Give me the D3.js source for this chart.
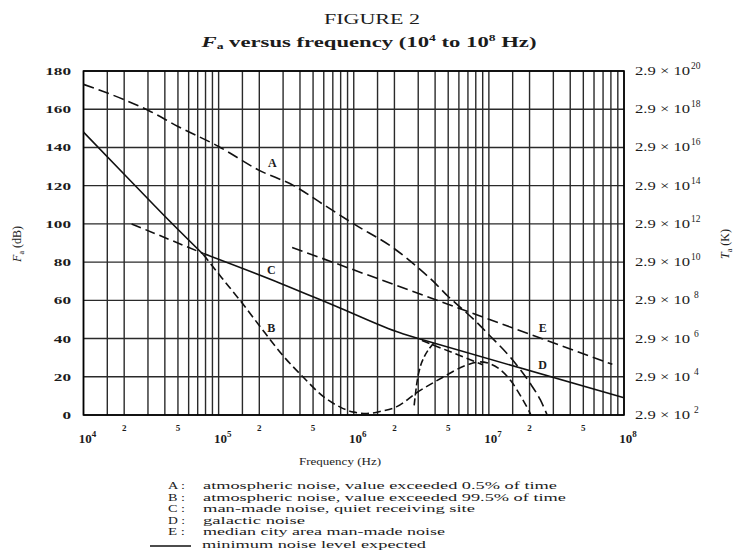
<!DOCTYPE html>
<html>
<head>
<meta charset="utf-8">
<script src="https://cdn.jsdelivr.net/npm/d3@7/dist/d3.min.js"></script>
<style>
  body { margin: 0; background: #fff; }
  svg { display: block; }
  text { font-family: "Liberation Serif", "Times New Roman", serif; fill: #1c1c1c; }
</style>
</head>
<body>
<svg id="chart"></svg>
<script>
// ---- data ----
const decades = [4, 5, 6, 7, 8];
const minorSteps = [1.5, 2, 3, 4, 5, 6, 7, 8, 9];
const minorLabelSteps = [2, 5];
const faTicks = [0, 20, 40, 60, 80, 100, 120, 140, 160, 180];
const tempExponents = [2, 4, 6, 8, 10, 12, 14, 16, 18, 20];

// [frequency Hz, Fa dB]
const curveA = [[1e4,173],[2e4,165],[3e4,159.5],[5e4,151],[1e5,140.5],[2e5,128],[3.6e5,120],[6e5,110],
  [1e6,100],[2e6,87],[3e6,77],[4e6,69],[5e6,62],[6e6,57],[8e6,49],[1e7,42],[1.43e7,30.5],[2e7,17],[2.4e7,8],[2.7e7,0]];
const curveBmin = [[1e4,148],[2e4,126],[4e4,104],[7.7e4,84]];
const curveB = [[7.7e4,84],[1.05e5,72],[1.44e5,60],[2.2e5,43],[3e5,31],[4.2e5,20],[6e5,9.5],[8e5,4],
  [1e6,1.5],[1.25e6,0.8],[1.6e6,2],[2.1e6,4.5],[2.9e6,11.5],[4.5e6,19.5],[6.8e6,26],[8.6e6,27.8],
  [1e7,27],[1.2e7,24],[1.45e7,18],[1.75e7,9],[2e7,1.5],[2.05e7,0]];
const curveCupper = [[2.27e4,100],[7.7e4,84.5]];
const curveCmin = [[7.7e4,84.5],[2.85e5,69],[7.9e5,56],[2.2e6,43],[3e6,40]];
const curveClower = [[3.2e6,39],[9e6,26.3]];
const curveDrise = [[2.8e6,5],[2.85e6,10],[2.95e6,18],[3.1e6,25],[3.3e6,30],[3.6e6,34.5],[3.9e6,37.5]];
const curveDmin = [[3e6,40],[1e8,9]];
const curveE = [[3.5e5,87.7],[8.2e7,26.5]];

const curveLabels = [["A",2.5e5,132],["B",2.45e5,45.5],["C",2.45e5,76],["D",2.5e7,26.2],["E",2.5e7,45.4]];

const legendKeys = ["A", "B", "C", "D", "E"];
const legendTexts = [
  "atmospheric noise, value exceeded 0.5% of time",
  "atmospheric noise, value exceeded 99.5% of time",
  "man-made noise, quiet receiving site",
  "galactic noise",
  "median city area man-made noise"
];
const minLegendText = "minimum noise level expected";

// ---- drawing ----
const W = 734, H = 554;
const svg = d3.select("#chart").attr("width", W).attr("height", H);

const x = d3.scaleLog().domain([1e4, 1e8]).range([83.5, 624]);
const y = d3.scaleLinear().domain([0, 180]).range([415, 71]);

// title
const title = svg.append("g");
title.append("text").attr("x", 372).attr("y", 24).attr("text-anchor", "middle")
  .attr("font-size", 15).attr("textLength", 96).attr("lengthAdjust", "spacingAndGlyphs")
  .text("FIGURE 2");
const t2 = title.append("text").attr("x", 369).attr("y", 47).attr("text-anchor", "middle")
  .attr("font-size", 15).attr("font-weight", "bold")
  .attr("textLength", 335).attr("lengthAdjust", "spacingAndGlyphs");
t2.append("tspan").attr("font-style", "italic").text("F");
t2.append("tspan").attr("font-size", 9).attr("dy", 2).text("a");
t2.append("tspan").attr("dy", -2).text(" versus frequency (10");
t2.append("tspan").attr("font-size", 9).attr("dy", -6).text("4");
t2.append("tspan").attr("dy", 6).text(" to 10");
t2.append("tspan").attr("font-size", 9).attr("dy", -6).text("8");
t2.append("tspan").attr("dy", 6).text(" Hz)");

// grid
const vTicks = [];
decades.slice(0, -1).forEach(d => {
  vTicks.push(Math.pow(10, d));
  minorSteps.forEach(s => vTicks.push(s * Math.pow(10, d)));
});
vTicks.push(1e8);

const grid = svg.append("g");
grid.selectAll(".v").data(vTicks).join("line")
  .attr("x1", d => x(d)).attr("x2", d => x(d))
  .attr("y1", y(0)).attr("y2", y(180))
  .attr("stroke", "#2a2a2a").attr("stroke-width", 1.4);
grid.selectAll(".h").data(faTicks).join("line")
  .attr("x1", x(1e4)).attr("x2", x(1e8))
  .attr("y1", d => y(d)).attr("y2", d => y(d))
  .attr("stroke", "#2a2a2a").attr("stroke-width", 1.4);
svg.append("rect").attr("x", x(1e4)).attr("y", y(180))
  .attr("width", x(1e8) - x(1e4)).attr("height", y(0) - y(180))
  .attr("fill", "none").attr("stroke", "#000").attr("stroke-width", 1.6);

// left axis labels
svg.append("g").selectAll("text").data(faTicks).join("text")
  .attr("x", 71).attr("y", d => y(d) + 4)
  .attr("text-anchor", "end").attr("font-size", 11).attr("font-weight", "bold")
  .attr("textLength", d => String(d).length * 8.6).attr("lengthAdjust", "spacingAndGlyphs")
  .text(d => d);

const yl = svg.append("text").attr("transform", "translate(21,244) rotate(-90)")
  .attr("text-anchor", "middle").attr("font-size", 12);
yl.append("tspan").attr("font-style", "italic").text("F");
yl.append("tspan").attr("font-size", 8).attr("dy", 3).text("a");
yl.append("tspan").attr("dy", -3).text(" (dB)");

// right axis labels
const rl = svg.append("g").selectAll("g").data(faTicks).join("g")
  .attr("transform", d => `translate(635,${y(d) + 4})`);
rl.append("text").attr("font-size", 12.5)
  .attr("textLength", 55).attr("lengthAdjust", "spacingAndGlyphs")
  .text("2.9 × 10");
rl.append("text").attr("font-size", 9.5).attr("y", -6)
  .attr("x", (d, i) => tempExponents[i] < 10 ? 59 : 56)
  .text((d, i) => tempExponents[i]);

const tl = svg.append("text").attr("transform", "translate(729,244) rotate(-90)")
  .attr("text-anchor", "middle").attr("font-size", 12);
tl.append("tspan").attr("font-style", "italic").text("T");
tl.append("tspan").attr("font-size", 8).attr("dy", 3).text("a");
tl.append("tspan").attr("dy", -3).text(" (K)");

// bottom axis labels
const dl = svg.append("g").selectAll("text").data(decades).join("text")
  .attr("x", d => x(Math.pow(10, d)) + 4).attr("y", 443)
  .attr("text-anchor", "middle").attr("font-size", 13).attr("font-weight", "bold");
dl.append("tspan").text("10");
dl.append("tspan").attr("font-size", 9).attr("dy", -6).text(d => d);

const mLabels = [];
decades.slice(0, -1).forEach(d => minorLabelSteps.forEach(s => mLabels.push(s * Math.pow(10, d))));
svg.append("g").selectAll("text").data(mLabels).join("text")
  .attr("x", d => x(d)).attr("y", 431)
  .attr("text-anchor", "middle").attr("font-size", 9).attr("font-weight", "bold")
  .text(d => String(d).charAt(0));

svg.append("text").attr("x", 340).attr("y", 465).attr("text-anchor", "middle")
  .attr("font-size", 11).attr("textLength", 82).attr("lengthAdjust", "spacingAndGlyphs")
  .text("Frequency (Hz)");

// curves
const line = d3.line().x(d => x(d[0])).y(d => y(d[1])).curve(d3.curveMonotoneX);
const segments = [
  { data: curveA, dash: "11,5" },
  { data: curveBmin, dash: null },
  { data: curveB, dash: "8,4" },
  { data: curveCupper, dash: "10,5" },
  { data: curveCmin, dash: null },
  { data: curveClower, dash: "8,4" },
  { data: curveDrise, dash: "7,3" },
  { data: curveDmin, dash: null },
  { data: curveE, dash: "11,5" }
];
svg.append("g").selectAll("path").data(segments).join("path")
  .attr("d", d => line(d.data))
  .attr("fill", "none").attr("stroke", "#111").attr("stroke-width", 1.6)
  .attr("stroke-dasharray", d => d.dash);

// curve letters
svg.append("g").selectAll("text").data(curveLabels).join("text")
  .attr("x", d => x(d[1])).attr("y", d => y(d[2]) + 4)
  .attr("text-anchor", "middle").attr("font-size", 12).attr("font-weight", "bold")
  .text(d => d[0]);

// legend
const legendW = [354, 363, 272, 102, 242];
const lg = svg.append("g");
legendKeys.forEach((k, i) => {
  const ly = 489 + i * 11.6;
  lg.append("text").attr("x", 168).attr("y", ly).attr("font-size", 11)
    .attr("textLength", 17).attr("lengthAdjust", "spacingAndGlyphs").text(k + " :");
  lg.append("text").attr("x", 203).attr("y", ly).attr("font-size", 11)
    .attr("textLength", legendW[i]).attr("lengthAdjust", "spacingAndGlyphs")
    .text(legendTexts[i]);
});
lg.append("line").attr("x1", 150).attr("x2", 191).attr("y1", 546).attr("y2", 546)
  .attr("stroke", "#111").attr("stroke-width", 1.5);
lg.append("text").attr("x", 202).attr("y", 548).attr("font-size", 11)
  .attr("textLength", 224).attr("lengthAdjust", "spacingAndGlyphs")
  .text(minLegendText);

svg.append("text").attr("x", 690).attr("y", 561).attr("font-size", 10).text("P0372-02");
</script>
</body>
</html>
